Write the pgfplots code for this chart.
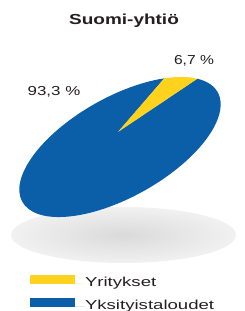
\documentclass[border=0pt]{standalone}
\usepackage{pgfplots}
\pgfplotsset{compat=1.18}
\usepackage{pgfplotstable}
\usepackage{graphicx}
\usepackage{fontspec}
\setmainfont{Liberation Sans}
\definecolor{pieblue}{HTML}{0B5FA8}
\definecolor{pieyellow}{HTML}{FFD21E}
\definecolor{txt}{HTML}{231F20}
\definecolor{shin}{HTML}{DADADA}
\definecolor{shout}{HTML}{F1F1F1}
\pgfplotstableread{
label value
Yritykset 6.7
Yksityistaloudet 93.3
}\piedata
\begin{document}%
\begin{tikzpicture}
\pgfplotstablegetelem{0}{value}\of\piedata \let\va\pgfplotsretval
\pgfplotstablegetelem{1}{value}\of\piedata \let\vb\pgfplotsretval
\pgfmathsetmacro{\aS}{25.7}
\pgfmathsetmacro{\aM}{\aS+3.6*\va}
\pgfmathsetmacro{\aE}{\aM+3.6*\vb}
\begin{axis}[at={(0,0)}, anchor=south west, scale only axis,
  width=244pt, height=311pt, xmin=0, xmax=244, ymin=0, ymax=311,
  hide axis, clip=false,
  legend style={at={(axis cs:30,36.5)}, anchor=north west, draw=none, fill=none,
    inner sep=0pt, outer sep=0pt, row sep=8.5pt, column sep=0pt,
    nodes={inner sep=0pt, text height=9.5pt, text depth=3pt, text=txt},
    font=\fontsize{13}{15}\selectfont},
  legend cell align=left,
  legend image code/.code={\fill[#1, draw=none] (0pt,-1pt) rectangle (45pt,8.5pt);\path (45pt,0pt) -- (55pt,0pt);}]
\addlegendimage{fill=pieyellow, draw=none}
\addlegendentry{\scalebox{1.43}[1]{Yritykset}}
\addlegendimage{fill=pieblue, draw=none}
\addlegendentry{\scalebox{1.43}[1]{Yksityistaloudet}}
\coordinate (bl) at (axis cs:0,0);
\coordinate (tr) at (axis cs:244,311);
\shade[inner color=shin, outer color=shout] (axis cs:123.5,76) ellipse [x radius=112.5pt, y radius=28pt];
\begin{scope}[shift={(axis cs:120,164)}, rotate=29.3]
\fill[pieblue] (68.3:15.2pt) -- (\aM:112pt and 50pt) arc[start angle=\aM, end angle=\aE, x radius=112pt, y radius=50pt] -- cycle;
\fill[pieyellow] (68.3:15.2pt) -- (\aS:112pt and 50pt) arc[start angle=\aS, end angle=\aM, x radius=112pt, y radius=50pt] -- cycle;
\end{scope}
\node[text=txt, font=\bfseries\fontsize{14.5}{17}\selectfont] at (axis cs:124,290) {\scalebox{1.31}[1]{Suomi-yhtiö}};
\node[text=txt, font=\fontsize{13}{15}\selectfont] at (axis cs:54,219.5) {\scalebox{1.3}[1]{93,3 \%}};
\node[text=txt, font=\fontsize{13}{15}\selectfont] at (axis cs:194,250) {\scalebox{1.2}[1]{6,7 \%}};
\end{axis}
\pgfresetboundingbox
\path[use as bounding box] (bl) rectangle (tr);
\end{tikzpicture}%
\end{document}
